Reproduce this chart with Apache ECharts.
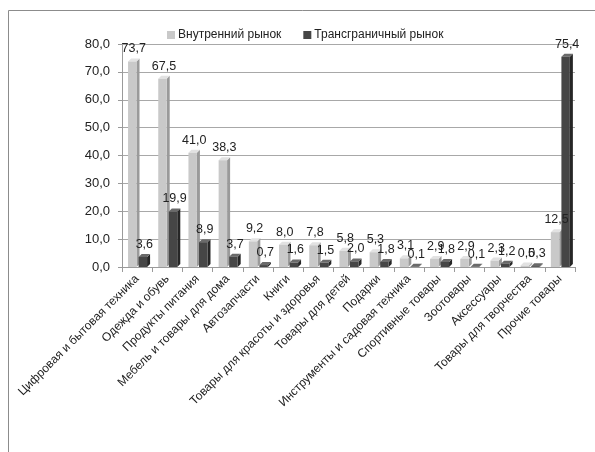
<!DOCTYPE html>
<html>
<head>
<meta charset="utf-8">
<script src="https://cdn.jsdelivr.net/npm/echarts@6/dist/echarts.min.js"></script>
<style>
  html, body { margin: 0; padding: 0; background: #fff; }
  #chart { width: 595px; height: 452px; }
</style>
</head>
<body>
<div id="chart"></div>
<script>
// Product categories
const categories = [
  'Цифровая и бытовая техника', 'Одежда и обувь', 'Продукты питания',
  'Мебель и товары для дома', 'Автозапчасти', 'Книги',
  'Товары для красоты и здоровья', 'Товары для детей', 'Подарки',
  'Инструменты и садовая техника', 'Спортивные товары', 'Зоотовары',
  'Аксессуары', 'Товары для творчества', 'Прочие товары'
];
// Shares, %
const domestic = [73.7, 67.5, 41.0, 38.3, 9.2, 8.0, 7.8, 5.8, 5.3, 3.1, 2.9, 2.9, 2.3, 0.5, 12.5];
const crossBorder = [3.6, 19.9, 8.9, 3.7, 0.7, 1.6, 1.5, 2.0, 1.8, 0.1, 1.8, 0.1, 1.2, 0.3, 75.4];
const yTicks = [0, 10, 20, 30, 40, 50, 60, 70, 80];
const seriesNames = ['Внутренний рынок', 'Трансграничный рынок'];

const FONT = '"Liberation Sans", "DejaVu Sans", sans-serif';
const palette = [
  { front: '#c9c9c9', side: '#9a9a9a', top: '#e2e2e2' },
  { front: '#464646', side: '#262626', top: '#6a6a6a' }
];

const fmt = v => v.toFixed(1).replace('.', ',');

// Geometry of one pseudo-3D column in pixel space
function columnBox(seriesIdx, api) {
  const i = api.value(0);
  const v = api.value(1);
  const top = api.coord([i, v]);
  const base = api.coord([i, 0]);
  const band = api.size([1, 0])[0];
  const w = band * 0.28;
  const d = band * 0.1;
  const x0 = seriesIdx === 0 ? top[0] - w - band * 0.02 : top[0] + band * 0.05;
  return { v, x0, x1: x0 + w, yTop: top[1], yBase: base[1], d };
}

// Column: front face, right side face and top face
function makeBars(seriesIdx) {
  return function (params, api) {
    const b = columnBox(seriesIdx, api);
    const c = palette[seriesIdx];
    return {
      type: 'group',
      children: [
        { type: 'polygon', shape: { points: [[b.x1, b.yBase], [b.x1 + b.d, b.yBase - b.d], [b.x1 + b.d, b.yTop - b.d], [b.x1, b.yTop]] },
          style: { fill: c.side } },
        { type: 'polygon', shape: { points: [[b.x0, b.yTop], [b.x0 + b.d, b.yTop - b.d], [b.x1 + b.d, b.yTop - b.d], [b.x1, b.yTop]] },
          style: { fill: c.top } },
        { type: 'rect', shape: { x: b.x0, y: b.yTop, width: b.x1 - b.x0, height: b.yBase - b.yTop },
          style: { fill: c.front } }
      ]
    };
  };
}

// Value label above each column, drawn above all columns
function makeLabels(seriesIdx) {
  return function (params, api) {
    const b = columnBox(seriesIdx, api);
    return {
      type: 'text',
      style: {
        text: fmt(b.v), x: (b.x0 + b.x1 + b.d) / 2, y: b.yTop - b.d - 3,
        align: 'center', verticalAlign: 'bottom',
        fontFamily: FONT, fontSize: 12.5, fill: '#222'
      }
    };
  };
}

const chart = echarts.init(document.getElementById('chart'), null, { renderer: 'canvas' });
chart.setOption({
  backgroundColor: '#fff',
  animation: false,
  graphic: [{
    type: 'rect', silent: true,
    shape: { x: 8.5, y: 10.5, width: 620, height: 500 },
    style: { fill: 'none', stroke: '#8c8c8c', lineWidth: 1 }
  }],
  legend: {
    top: 24, left: 162, itemGap: 22,
    itemWidth: 8, itemHeight: 8, icon: 'rect',
    textStyle: { fontFamily: FONT, fontSize: 12, color: '#222', padding: [0, 0, 0, -2] },
    data: seriesNames
  },
  grid: { left: 122, right: 20, top: 44, bottom: 185, containLabel: false },
  xAxis: {
    type: 'category',
    data: categories,
    axisLine: { lineStyle: { color: '#9a9a9a' } },
    axisTick: { show: true, length: 5, lineStyle: { color: '#9a9a9a' } },
    axisLabel: { rotate: 45, interval: 0, margin: 10, fontFamily: FONT, fontSize: 12, color: '#222' }
  },
  yAxis: {
    type: 'value', min: 0, max: 80, interval: 10,
    axisLine: { show: true, lineStyle: { color: '#9a9a9a' } },
    axisTick: { show: true, length: 4, lineStyle: { color: '#9a9a9a' } },
    splitLine: { lineStyle: { color: '#a8a8a8' } },
    axisLabel: {
      margin: 12, fontFamily: FONT, fontSize: 13, color: '#222',
      formatter: v => yTicks.includes(v) ? fmt(v) : ''
    }
  },
  series: [
    {
      name: seriesNames[0], type: 'custom', z: 2,
      itemStyle: { color: palette[0].front },
      renderItem: makeBars(0),
      encode: { x: 0, y: 1 },
      data: domestic.map((v, i) => [i, v])
    },
    {
      name: seriesNames[1], type: 'custom', z: 2,
      itemStyle: { color: palette[1].front },
      renderItem: makeBars(1),
      encode: { x: 0, y: 1 },
      data: crossBorder.map((v, i) => [i, v])
    },
    {
      name: 'labels-domestic', type: 'custom', z: 5, silent: true,
      renderItem: makeLabels(0),
      encode: { x: 0, y: 1 },
      data: domestic.map((v, i) => [i, v])
    },
    {
      name: 'labels-cross', type: 'custom', z: 5, silent: true,
      renderItem: makeLabels(1),
      encode: { x: 0, y: 1 },
      data: crossBorder.map((v, i) => [i, v])
    }
  ]
});
</script>
</body>
</html>
